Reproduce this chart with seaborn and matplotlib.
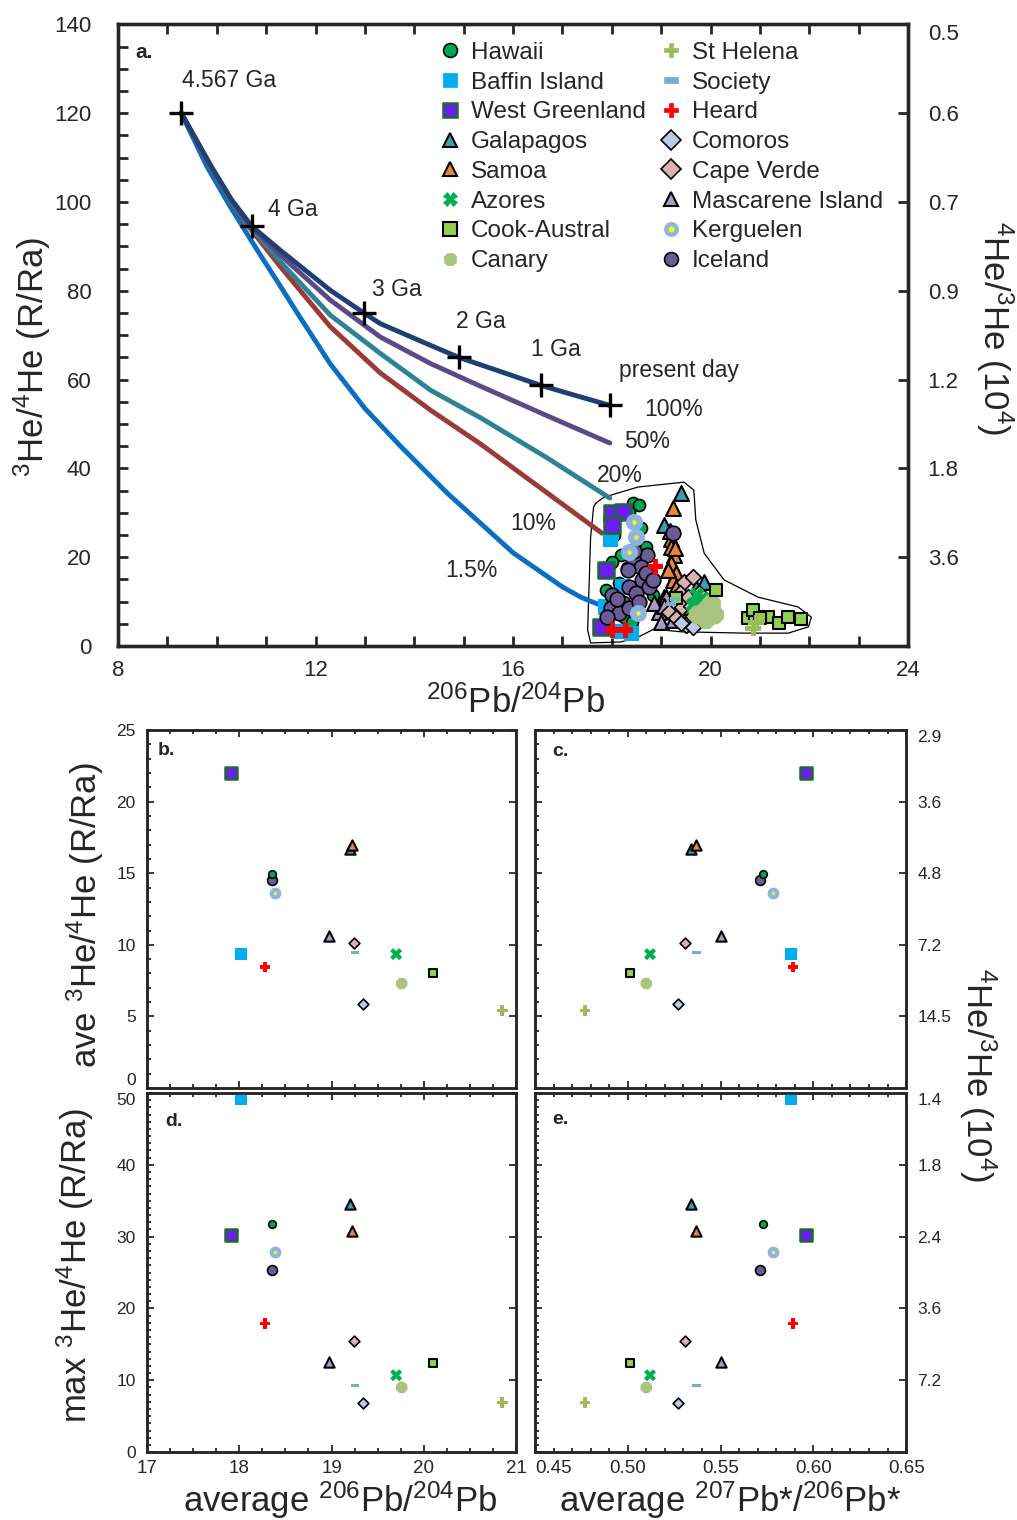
import matplotlib
matplotlib.use("Agg")
import matplotlib.pyplot as plt
from matplotlib.lines import Line2D
from matplotlib.path import Path
from matplotlib.ticker import MultipleLocator
import seaborn as sns

sns.set_style("ticks")
plt.rcParams['font.family'] = ['Liberation Sans', 'DejaVu Sans']
plt.rcParams['mathtext.default'] = 'regular'

# ---------------- panel a: mixing / evolution curves ----------------
C100_X = [9.28, 9.9, 10.3, 10.71, 11.29, 12.30, 12.98, 13.31, 14.33, 14.9, 15.8, 16.56, 17.3, 17.96]
C100_Y = [120, 107.8, 100.5, 94.5, 89.1, 80.1, 75.0, 72.6, 67.7, 65.0, 61.6, 58.7, 56.3, 54.2]
C50_X = [9.28, 9.9, 10.3, 10.71, 11.29, 12.30, 13.31, 14.33, 15.34, 16.7, 17.96]
C50_Y = [120, 107.6, 100.3, 94.3, 88.0, 77.9, 69.6, 63.6, 58.5, 51.8, 45.7]
C20_X = [9.28, 9.9, 10.3, 10.7, 11.29, 12.30, 13.31, 14.33, 15.34, 16.7, 17.96]
C20_Y = [120, 107.4, 100.0, 94.2, 86.5, 74.5, 65.9, 57.6, 51.4, 42.3, 33.3]
C10_X = [9.28, 9.9, 10.3, 10.68, 11.29, 12.30, 13.31, 14.33, 15.34, 16.7, 17.8]
C10_Y = [120, 107.2, 99.8, 94.0, 85.4, 71.9, 61.5, 53.1, 45.5, 34.4, 25.4]
C1_X = [9.28, 9.8, 10.27, 10.8, 11.29, 11.63, 12.30, 13.0, 13.72, 14.67, 16.0, 17.0, 17.37, 17.9]
C1_Y = [120, 108.0, 99.0, 89.5, 81.0, 75.0, 63.5, 53.5, 45.0, 34.4, 21.0, 13.3, 11.0, 8.6]
CURVE_LABELS = ['100%', '50%', '20%', '10%', '1.5%']

AGE_X = [9.28, 10.71, 12.98, 14.9, 16.56, 17.96]
AGE_Y = [120, 94.5, 75.0, 65.0, 58.7, 54.2]
AGE_LABELS = ['4.567 Ga', '4 Ga', '3 Ga', '2 Ga', '1 Ga', 'present day']

# outline around the oceanic-island data
OUTLINE_X = [17.68, 17.84, 18.53, 19.46, 19.66, 19.70, 19.87, 20.27, 20.96, 21.77, 22.04, 21.98,
             21.57, 20.68, 19.40, 18.85, 18.53, 18.18, 17.57, 17.51, 17.57, 17.63, 17.68]
OUTLINE_Y = [32.2, 33.5, 35.8, 36.9, 35.1, 28.4, 20.9, 14.9, 11.0, 8.8, 6.5, 4.3,
             2.9, 2.9, 3.2, 3.8, 2.0, 0.9, 0.7, 3.6, 24.5, 31.3, 32.2]

# individual samples (206Pb/204Pb, 3He/4He)
HAWAII_X = [18.42, 18.55, 18.35, 18.22, 18.18, 18.69, 18.15, 18.12, 17.88, 18.83, 18.25, 18.05, 18.60, 18.30, 18.48, 18.00, 18.40, 18.70]
HAWAII_Y = [32.1, 31.7, 30.2, 30.6, 20.5, 22.4, 14.1, 11.9, 12.6, 11.5, 6.6, 25.0, 26.5, 17.5, 9.0, 19.0, 5.5, 15.5]
BAFFIN_X = [17.98, 18.00, 17.88, 18.22, 18.14, 18.39]
BAFFIN_Y = [23.9, 25.5, 8.8, 13.3, 3.2, 2.9]
WGREEN_X = [18.01, 18.22, 18.01, 17.88, 17.78]
WGREEN_Y = [29.9, 30.2, 27.2, 17.1, 4.3]
GALAP_X = [19.40, 19.06, 19.87, 19.06, 19.50, 19.70]
GALAP_Y = [34.4, 27.2, 14.5, 11.1, 8.8, 13.0]
SAMOA_X = [19.23, 19.20, 19.20, 19.26, 19.20, 19.30, 19.23, 19.30, 19.13, 19.18, 19.28]
SAMOA_Y = [31.0, 24.2, 22.4, 20.5, 18.6, 16.4, 14.9, 13.3, 17.1, 26.0, 22.0]
AZOR_X = [19.77, 19.84, 19.64, 19.72]
AZOR_Y = [9.6, 10.7, 9.2, 11.5]
COOK_X = [20.11, 19.30, 20.75, 20.89, 20.85, 21.16, 21.39, 21.56, 21.83, 21.00]
COOK_Y = [12.6, 10.8, 6.2, 6.6, 8.1, 6.6, 5.1, 6.6, 6.0, 6.2]
CANARY_X = [19.87, 20.08, 19.74, 19.97, 19.91, 20.02]
CANARY_Y = [7.7, 7.0, 7.0, 8.8, 5.9, 9.5]
STHEL_X = [20.86, 20.92]
STHEL_Y = [4.0, 5.2]
SOCIETY_X = [19.20, 19.28]
SOCIETY_Y = [9.5, 10.6]
HEARD_X = [18.89, 18.01, 18.27]
HEARD_Y = [17.8, 3.6, 3.6]
COMOR_X = [19.50, 19.64, 19.40]
COMOR_Y = [4.7, 4.3, 5.1]
CAPEV_X = [19.47, 19.64, 19.37, 19.54, 19.43, 19.16, 19.30, 19.57, 19.77, 19.60]
CAPEV_Y = [14.5, 15.6, 11.9, 11.1, 8.8, 7.7, 6.2, 5.9, 11.9, 9.0]
MASC_X = [19.10, 18.96, 18.99, 18.86, 19.23, 19.05]
MASC_Y = [11.1, 7.7, 5.5, 9.6, 5.9, 9.0]
KERG_X = [18.45, 18.49, 18.52, 18.35]
KERG_Y = [28.0, 24.6, 7.4, 21.2]
ICELAND_X = [19.23, 18.42, 18.72, 18.59, 18.32, 18.62, 18.35, 18.76, 18.49, 18.01, 18.22, 17.98, 18.15, 18.35, 17.91, 18.69, 18.83, 18.45, 18.55, 18.10]
ICELAND_Y = [25.4, 19.7, 20.5, 17.8, 17.1, 14.9, 13.3, 13.3, 11.9, 11.5, 9.6, 8.5, 7.4, 8.5, 6.6, 16.4, 14.9, 21.5, 10.0, 10.5]

# ---------------- panels b-e: per-hotspot averages / maxima ----------------
GROUPS = ["Hawaii", "Baffin Island", "West Greenland", "Galapagos", "Samoa", "Azores",
          "Cook-Austral", "Canary", "St Helena", "Society", "Heard", "Comoros",
          "Cape Verde", "Mascarene Island", "Kerguelen", "Iceland"]
AVG_PB206 = [18.36, 18.02, 17.91, 19.20, 19.22, 19.70, 20.10, 19.76, 20.85, 19.25, 18.28, 19.34, 19.24, 18.97, 18.39, 18.36]
AVG_PB207 = [0.573, 0.588, 0.596, 0.534, 0.537, 0.512, 0.501, 0.510, 0.477, 0.537, 0.589, 0.527, 0.531, 0.550, 0.578, 0.571]
AVE_RA = [14.95, 9.35, 22.0, 16.7, 16.95, 9.35, 8.05, 7.3, 5.4, 9.45, 8.45, 5.9, 10.15, 10.6, 13.65, 14.5]
MAX_RA = [31.7, 49.2, 30.2, 34.6, 30.8, 10.7, 12.4, 9.0, 6.9, 9.25, 17.9, 6.8, 15.4, 12.5, 27.8, 25.3]

RIGHT_A_TICKS = [20, 40, 60, 80, 100, 120, 140]
RIGHT_A_LABELS = ['3.6', '1.8', '1.2', '0.9', '0.7', '0.6', '0.5']
RIGHT_C_TICKS = [5, 10, 15, 20, 25]
RIGHT_C_LABELS = ['14.5', '7.2', '4.8', '3.6', '2.9']
RIGHT_E_TICKS = [10, 20, 30, 40, 50]
RIGHT_E_LABELS = ['7.2', '3.6', '2.4', '1.8', '1.4']

# ---------------- styles ----------------
dash = Path([(-1, -0.4), (1, -0.4), (1, 0.4), (-1, 0.4), (-1, -0.4)],
            [Path.MOVETO, Path.LINETO, Path.LINETO, Path.LINETO, Path.CLOSEPOLY])
STY = {
    "Hawaii":           dict(m='o', fc='#00a651', ec='black', lw=1.2, sa=75, sb=30),
    "Baffin Island":    dict(m='s', fc='#00aeef', ec='none', lw=0, sa=120, sb=75),
    "West Greenland":   dict(m='s', fc='#6a1df5', ec='#1b6b2a', lw=1.8, sa=130, sb=75),
    "Galapagos":        dict(m='^', fc='#3e9cb5', ec='black', lw=1.5, sa=115, sb=55),
    "Samoa":            dict(m='^', fc='#e8873a', ec='black', lw=1.5, sa=115, sb=55),
    "Azores":           dict(m='X', fc='#00b050', ec='none', lw=0, sa=120, sb=75),
    "Cook-Austral":     dict(m='s', fc='#92d050', ec='black', lw=1.5, sa=70, sb=35),
    "Canary":           dict(m='8', fc='#a9c47f', ec='none', lw=0, sa=210, sb=80),
    "St Helena":        dict(m='P', fc='#9bbb59', ec='none', lw=0, sa=120, sb=60),
    "Society":          dict(m=dash, fc='#6fb1cf', ec='none', lw=0, sa=45, sb=35),
    "Heard":            dict(m='P', fc='#ff0000', ec='none', lw=0, sa=120, sb=60),
    "Comoros":          dict(m='D', fc='#b8cce4', ec='black', lw=1.2, sa=65, sb=30),
    "Cape Verde":       dict(m='D', fc='#d9b3b0', ec='black', lw=1.2, sa=65, sb=30),
    "Mascarene Island": dict(m='^', fc='#a99bc6', ec='black', lw=1.5, sa=115, sb=55),
    "Kerguelen":        dict(m='o', fc='#ffff00', ec='#8db4e2', lw=4.5, sa=60, sb=30),
    "Iceland":          dict(m='o', fc='#6b5b95', ec='black', lw=1.2, sa=110, sb=50),
}
A_DATA = {
    "Hawaii": (HAWAII_X, HAWAII_Y), "Baffin Island": (BAFFIN_X, BAFFIN_Y),
    "West Greenland": (WGREEN_X, WGREEN_Y), "Galapagos": (GALAP_X, GALAP_Y),
    "Samoa": (SAMOA_X, SAMOA_Y), "Iceland": (ICELAND_X, ICELAND_Y),
    "Kerguelen": (KERG_X, KERG_Y), "Mascarene Island": (MASC_X, MASC_Y),
    "Cape Verde": (CAPEV_X, CAPEV_Y), "Comoros": (COMOR_X, COMOR_Y),
    "Azores": (AZOR_X, AZOR_Y), "Canary": (CANARY_X, CANARY_Y),
    "Cook-Austral": (COOK_X, COOK_Y), "St Helena": (STHEL_X, STHEL_Y),
    "Society": (SOCIETY_X, SOCIETY_Y), "Heard": (HEARD_X, HEARD_Y),
}
CURVE_COLORS = ['#1f3f75', '#5b4a87', '#2f8296', '#9b3a37', '#0a6fc2']


def dots(ax, x, y, name, size_key, z=3):
    st = STY[name]
    lw = st['lw'] if (size_key == 'sa' or name != "Kerguelen") else 3.0
    sns.scatterplot(x=x, y=y, ax=ax, marker=st['m'], s=st[size_key], color=st['fc'],
                    edgecolor=st['ec'], linewidth=lw, zorder=z, legend=False)


fig = plt.figure(figsize=(10.17, 15.2), dpi=100)

# ---------------- panel a ----------------
ax = fig.add_axes([0.116, 0.575, 0.777, 0.409])
curves = [(C100_X, C100_Y), (C50_X, C50_Y), (C20_X, C20_Y), (C10_X, C10_Y), (C1_X, C1_Y)]
for (cx, cy), col in zip(curves[::-1], CURVE_COLORS[::-1]):
    sns.lineplot(x=cx, y=cy, ax=ax, sort=False, estimator=None, color=col, lw=3.5, zorder=2)
sns.lineplot(x=OUTLINE_X, y=OUTLINE_Y, ax=ax, sort=False, estimator=None, color='black', lw=0.9, zorder=1)

a_order = ["Hawaii", "Baffin Island", "West Greenland", "Galapagos", "Samoa", "Iceland",
           "Kerguelen", "Mascarene Island", "Cape Verde", "Comoros", "Azores", "Canary",
           "Cook-Austral", "St Helena", "Society", "Heard"]
for i, name in enumerate(a_order):
    gx, gy = A_DATA[name]
    dots(ax, gx, gy, name, 'sa', z=3 + i * 0.01)

sns.scatterplot(x=AGE_X, y=AGE_Y, ax=ax, marker='+', s=300, color='black', linewidth=2.4, zorder=5, legend=False)

age_pos = [(9.30, 127.4), (11.04, 98.4), (13.15, 80.3), (14.84, 73.1), (16.36, 66.8), (18.14, 62.1)]
for (tx, ty), lab in zip(age_pos, AGE_LABELS):
    ax.text(tx, ty, lab, fontsize=16.5, ha='left', va='center')
pct_pos = [(18.65, 53.3), (18.24, 46.1), (17.70, 38.5), (15.95, 27.5), (14.63, 16.9)]
for (tx, ty), lab in zip(pct_pos, CURVE_LABELS):
    ax.text(tx, ty, lab, fontsize=16.5, ha='left', va='center')

ax.set_xlim(8, 24)
ax.set_ylim(0, 140)
ax.xaxis.set_major_locator(MultipleLocator(4))
ax.xaxis.set_minor_locator(MultipleLocator(1))
ax.yaxis.set_major_locator(MultipleLocator(20))
ax.yaxis.set_minor_locator(MultipleLocator(5))
ax.tick_params(which='both', direction='in', top=True, right=False, length=7, width=2)
ax.tick_params(axis='y', labelsize=16, pad=19)
ax.tick_params(axis='x', labelsize=16, pad=10)
for sp in ax.spines.values():
    sp.set_linewidth(2.4)
ax.text(0.022, 0.955, 'a.', transform=ax.transAxes, fontsize=15, fontweight='bold', va='center')

tw = ax.twinx()
tw.set_ylim(0, 140)
tw.set_yticks(RIGHT_A_TICKS)
tw.set_yticklabels(RIGHT_A_LABELS)
tw.tick_params(direction='in', length=7, width=2, labelsize=16, pad=14)
tw.yaxis.get_major_ticks()[-1].label2.set_va('top')
for sp in tw.spines.values():
    sp.set_linewidth(2.4)

handles = []
for name in GROUPS:
    st = STY[name]
    if name == "Kerguelen":
        h = Line2D([], [], ls='', marker='o', markersize=7.5, markerfacecolor=st['fc'],
                   markeredgecolor=st['ec'], markeredgewidth=3.2)
    else:
        h = Line2D([], [], ls='', marker=st['m'], markersize=10,
                   markerfacecolor=st['fc'], markeredgecolor=st['ec'] if st['ec'] != 'none' else st['fc'],
                   markeredgewidth=st['lw'] if st['lw'] else 0.5)
    handles.append(h)
ax.legend(handles, GROUPS, ncol=2, loc='upper left', bbox_to_anchor=(0.405, 0.972), frameon=False,
          fontsize=17.5, labelspacing=0.32, handlelength=1.0, handletextpad=0.35, columnspacing=0.55,
          borderpad=0, borderaxespad=0)

# ---------------- panels b-e ----------------
ax_b = fig.add_axes([0.1445, 0.2842, 0.363, 0.2355])
ax_c = fig.add_axes([0.526, 0.2842, 0.365, 0.2355])
ax_d = fig.add_axes([0.1445, 0.0447, 0.363, 0.2362])
ax_e = fig.add_axes([0.526, 0.0447, 0.365, 0.2362])

panels = [
    (ax_b, AVG_PB206, AVE_RA, 25, 5, 'b.', (17, 21), False, None, None),
    (ax_c, AVG_PB207, AVE_RA, 25, 5, 'c.', (0.45, 0.65), False, RIGHT_C_TICKS, RIGHT_C_LABELS),
    (ax_d, AVG_PB206, MAX_RA, 50, 10, 'd.', (17, 21), True, None, None),
    (ax_e, AVG_PB207, MAX_RA, 50, 10, 'e.', (0.45, 0.65), True, RIGHT_E_TICKS, RIGHT_E_LABELS),
]
letter_pos = {'b.': (0.03, 0.944), 'c.': (0.046, 0.94), 'd.': (0.05, 0.92), 'e.': (0.046, 0.925)}

for axp, xs, ys, ymax, ymaj, letter, xlim, xlab, rticks, rlabels in panels:
    for name in ["Baffin Island", "West Greenland", "Galapagos", "Samoa", "Iceland", "Hawaii",
                 "Kerguelen", "Mascarene Island", "Cape Verde", "Comoros", "Azores", "Canary",
                 "Cook-Austral", "St Helena", "Society", "Heard"]:
        i = GROUPS.index(name)
        dots(axp, [xs[i]], [ys[i]], name, 'sb')
    axp.set_xlim(*xlim)
    axp.set_ylim(0, ymax)
    if xlim[0] > 1:
        axp.set_xticks([17, 18, 19, 20, 21])
        axp.xaxis.set_minor_locator(MultipleLocator(0.25))
    else:
        axp.set_xticks([0.45, 0.50, 0.55, 0.60, 0.65])
        axp.set_xticklabels(['0.45', '0.50', '0.55', '0.60', '0.65'])
        axp.xaxis.set_minor_locator(MultipleLocator(0.01))
    axp.set_yticks(list(range(0, ymax + 1, ymaj)))
    axp.yaxis.set_minor_locator(MultipleLocator(1))
    axp.tick_params(which='both', direction='in', top=True, right=False, width=1.3)
    axp.tick_params(which='major', length=5)
    axp.tick_params(which='minor', length=3)
    axp.tick_params(axis='y', labelsize=12.5, pad=8)
    axp.tick_params(axis='x', labelsize=13.5, pad=6, labelbottom=xlab)
    if rticks is not None:
        axp.tick_params(axis='y', labelleft=False)
    for sp in axp.spines.values():
        sp.set_linewidth(1.8)
    axp.text(letter_pos[letter][0], letter_pos[letter][1], letter, transform=axp.transAxes,
             fontsize=14, fontweight='bold', va='center')

    tw2 = axp.twinx()
    tw2.set_ylim(0, ymax)
    if rticks is not None:
        tw2.set_yticks(rticks)
        tw2.set_yticklabels(rlabels)
        tw2.yaxis.get_major_ticks()[-1].label2.set_va('top')
    else:
        tw2.set_yticks(list(range(ymaj, ymax + 1, ymaj)))
        tw2.set_yticklabels([])
    tw2.tick_params(direction='in', length=5, width=1.3, labelsize=12.5, pad=8)
    for sp in tw2.spines.values():
        sp.set_linewidth(1.8)

# keep neighbouring tick labels apart, as in the reference
ax_b.yaxis.get_major_ticks()[0].label1.set_va('bottom')
ax_d.yaxis.get_major_ticks()[-1].label1.set_va('top')
ax_e.xaxis.get_major_ticks()[0].label1.set_ha('left')

# ---------------- axis titles ----------------
W, H = 1017, 1520
fs = 25
fig.text(515 / W, 1 - 703 / H, '$^{206}$Pb/$^{204}$Pb', fontsize=fs, ha='center', va='center')
fig.text(32 / W, 1 - 357 / H, '$^{3}$He/$^{4}$He (R/Ra)', fontsize=fs, rotation=90, ha='center', va='center')
fig.text(995 / W, 1 - 328 / H, '$^{4}$He/$^{3}$He (10$^{4}$)', fontsize=fs, rotation=270, ha='center', va='center')
fig.text(85 / W, 1 - 915 / H, 'ave $^{3}$He/$^{4}$He (R/Ra)', fontsize=fs, rotation=90, ha='center', va='center')
fig.text(75 / W, 1 - 1265 / H, 'max $^{3}$He/$^{4}$He (R/Ra)', fontsize=fs, rotation=90, ha='center', va='center')
fig.text(978 / W, 1 - 1075 / H, '$^{4}$He/$^{3}$He (10$^{4}$)', fontsize=fs, rotation=270, ha='center', va='center')
fig.text(340 / W, 1 - 1500 / H, 'average $^{206}$Pb/$^{204}$Pb', fontsize=fs, ha='center', va='center')
fig.text(730 / W, 1 - 1500 / H, 'average $^{207}$Pb*/$^{206}$Pb*', fontsize=fs, ha='center', va='center')

fig.savefig('out.png', dpi=100)
